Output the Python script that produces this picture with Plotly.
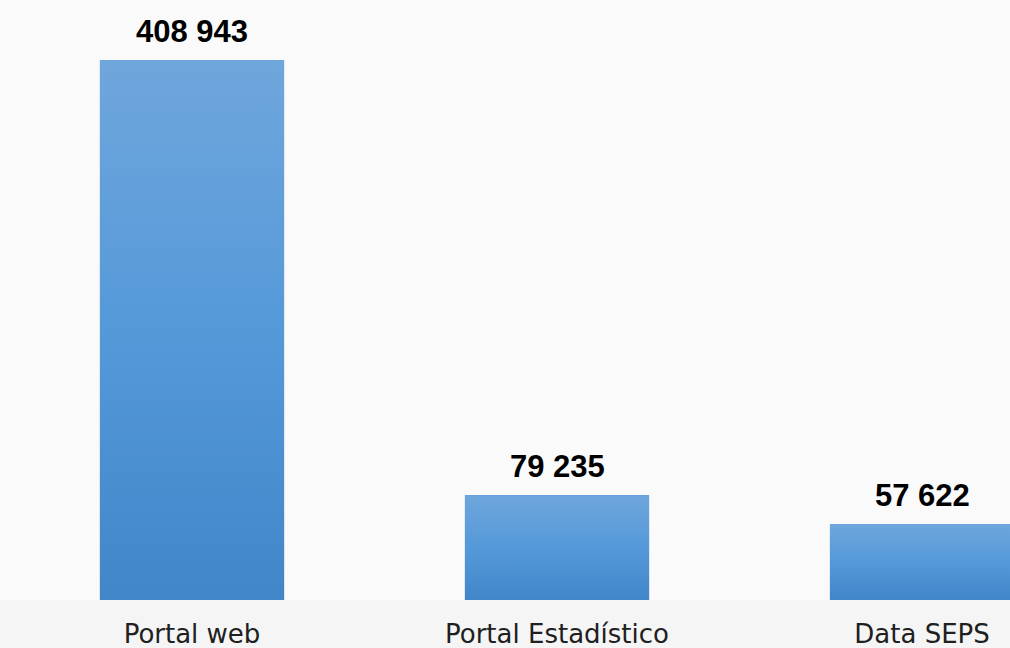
import plotly.graph_objects as go

# Visits per channel
categories = ["Portal web", "Portal Estadístico", "Data SEPS"]
visits = [408943, 79235, 57622]
value_labels = ["408 943", "79 235", "57 622"]

BAR_WIDTH = 0.505
positions = list(range(len(categories)))

fig = go.Figure()

# Solid base bars
fig.add_trace(go.Bar(
    x=positions, y=visits, width=BAR_WIDTH,
    marker=dict(color="#5898d6", line=dict(width=0)),
    hoverinfo="skip", showlegend=False,
))

# Vertical light-to-dark shading laid over each bar, spanning its own height
for pos, val in zip(positions, visits):
    x0, x1 = pos - BAR_WIDTH / 2, pos + BAR_WIDTH / 2
    fig.add_trace(go.Scatter(
        x=[x0, x1, x1, x0, x0], y=[0, 0, val, val, 0],
        mode="lines", line=dict(width=0), fill="toself",
        fillgradient=dict(type="vertical",
                          colorscale=[[0, "#4186c9"], [0.5, "#5599d9"], [1, "#6fa6dc"]]),
        hoverinfo="skip", showlegend=False,
    ))

# Value labels above the bars
for pos, val, txt in zip(positions, visits, value_labels):
    fig.add_annotation(
        x=pos, y=val, text=f"<b>{txt}</b>", showarrow=False,
        yanchor="bottom", yshift=9,
        font=dict(family="Liberation Sans, Arial, sans-serif", size=31, color="#000000"),
    )

fig.update_layout(
    width=1010, height=648,
    margin=dict(l=0, r=0, t=0, b=48),
    paper_bgcolor="#f5f5f5",
    plot_bgcolor="#fafafa",
    bargap=0,
    xaxis=dict(
        range=[-0.526, 2.241],
        tickvals=positions, ticktext=categories,
        showgrid=False, zeroline=False, showline=False,
        ticks="outside", ticklen=0, ticklabelstandoff=11,
        tickfont=dict(family="DejaVu Sans, sans-serif", size=26, color="#202020"),
        fixedrange=True,
    ),
    yaxis=dict(
        range=[0, 454381],
        visible=False, showgrid=False, zeroline=False,
        fixedrange=True,
    ),
)

fig.write_html("out.html")
